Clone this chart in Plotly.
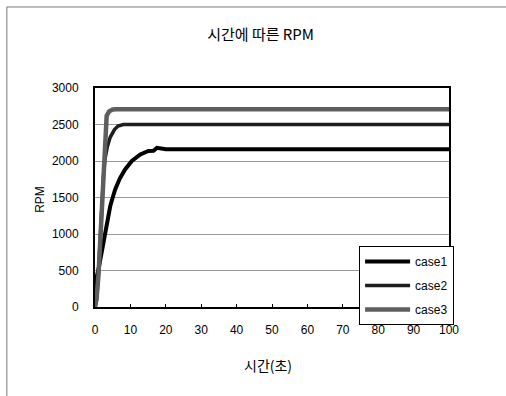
import plotly.graph_objects as go

# Time (s) and RPM readings for each case
t_case1 = [0, 0.2, 0.5, 1.0, 1.5, 2.0, 2.8, 3.5, 4.3, 5.0, 5.7, 7.0, 8.5, 10.4, 12.8, 15.1, 16.5, 17.5, 20, 100]
rpm_case1 = [0, 300, 420, 520, 650, 820, 1000, 1200, 1380, 1500, 1610, 1760, 1885, 2000, 2090, 2137, 2140, 2180, 2160, 2160]

t_case2 = [0, 0.5, 1.0, 1.5, 2.0, 2.4, 2.8, 3.5, 4.3, 5.5, 6.5, 8, 100]
rpm_case2 = [0, 100, 500, 1000, 1500, 1800, 2020, 2200, 2325, 2430, 2480, 2500, 2500]

t_case3 = [0, 0.5, 1.0, 1.4, 1.8, 2.4, 2.9, 3.3, 4.0, 5.0, 6.0, 100]
rpm_case3 = [0, 150, 450, 830, 1400, 2020, 2400, 2620, 2680, 2705, 2710, 2710]

series_names = ["case1", "case2", "case3"]
x_ticks = [0, 10, 20, 30, 40, 50, 60, 70, 80, 90, 100]
y_ticks = [0, 500, 1000, 1500, 2000, 2500, 3000]

KR = "Noto Sans CJK KR"
LAT = "Liberation Sans"

fig = go.Figure()
styles = [("#000000", 4), ("#1e1e1e", 3.5), ("#5e5e5e", 4.5)]
for name, xs, ys, (col, w) in zip(series_names,
                                  [t_case1, t_case2, t_case3],
                                  [rpm_case1, rpm_case2, rpm_case3],
                                  styles):
    fig.add_trace(go.Scatter(x=xs, y=ys, mode="lines", name=name,
                             legendgroup=name,
                             line=dict(color=col, width=w)))

fig.update_layout(
    width=506, height=396,
    margin=dict(l=95, r=57, t=88, b=89),
    paper_bgcolor="white", plot_bgcolor="white",
    font=dict(family=LAT, size=12, color="#000"),
    title=dict(text="시간에 따른 RPM", x=0.515, xanchor="center",
               y=1 - 35 / 396, yanchor="middle",
               font=dict(family=KR, size=15, color="#000")),
    showlegend=True,
    legend=dict(x=0.746, y=0.279, xanchor="left", yanchor="top",
                bgcolor="white", bordercolor="#000", borderwidth=1,
                font=dict(family=LAT, size=12, color="#000"),
                tracegroupgap=5, itemwidth=45),
)
fig.update_xaxes(range=[0, 100], tickvals=x_ticks, showgrid=False,
                 showline=True, linecolor="#000", linewidth=2, mirror=True,
                 ticks="inside", ticklen=3, tickcolor="#000",
                 ticklabelstandoff=11, zeroline=False)
fig.update_yaxes(range=[0, 3000], tickvals=y_ticks, showgrid=True,
                 gridcolor="#9a9a9a", gridwidth=1,
                 showline=True, linecolor="#000", linewidth=2, mirror=True,
                 ticks="", ticklabelstandoff=12, zeroline=False)

# Axis titles
fig.add_annotation(text="시간(초)", xref="paper", yref="paper",
                   x=0.49, y=-0.265, xanchor="center", yanchor="middle",
                   showarrow=False,
                   font=dict(family=KR, size=14, color="#000"))
fig.add_annotation(text="RPM", xref="paper", yref="paper",
                   x=-0.155, y=0.49, xanchor="center", yanchor="middle",
                   showarrow=False, textangle=-90,
                   font=dict(family=LAT, size=12, color="#000"))

# Outer chart frame (top and left edges)
fig.add_shape(type="line", xref="paper", yref="paper",
              x0=-0.249, x1=1.2, y0=1.37, y1=1.37,
              line=dict(color="#777", width=1))
fig.add_shape(type="line", xref="paper", yref="paper",
              x0=-0.249, x1=-0.249, y0=1.37, y1=-0.41,
              line=dict(color="#777", width=1))

fig.write_html("out.html")
